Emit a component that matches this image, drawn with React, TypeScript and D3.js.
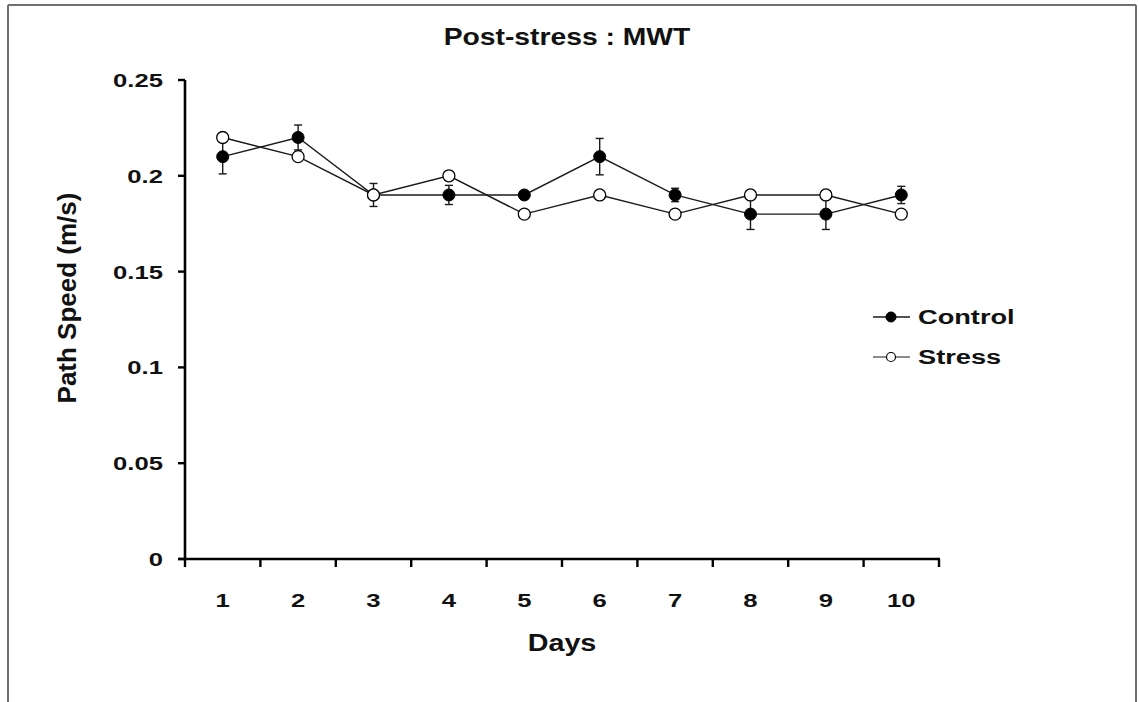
import React from "react";
import * as d3 from "d3";

// Mean path speed (m/s) per test day, with SEM
const days = ["1", "2", "3", "4", "5", "6", "7", "8", "9", "10"];
const controlMean = [0.21, 0.22, 0.19, 0.19, 0.19, 0.21, 0.19, 0.18, 0.18, 0.19];
const controlErr = [0.009, 0.0065, 0.006, 0.005, 0.002, 0.0095, 0.0035, 0.008, 0.008, 0.0045];
const stressMean = [0.22, 0.21, 0.19, 0.2, 0.18, 0.19, 0.18, 0.19, 0.19, 0.18];
const stressErr = [0.002, 0.002, 0.002, 0.002, 0.002, 0.002, 0.002, 0.002, 0.002, 0.002];
const yTicks = [0, 0.05, 0.1, 0.15, 0.2, 0.25];
const yTickLabels = ["0", "0.05", "0.1", "0.15", "0.2", "0.25"];

const W = 1139;
const H = 702;
const FONT = "'Liberation Sans', Arial, Helvetica, sans-serif";

type STProps = {
  x: number;
  y: number;
  sx?: number;
  size: number;
  anchor?: "start" | "middle" | "end";
  rotate?: number;
  children: React.ReactNode;
};

// Bold text with a horizontal stretch factor
function SText({ x, y, sx = 1, size, anchor = "start", rotate = 0, children }: STProps) {
  return (
    <text
      transform={`translate(${x},${y}) rotate(${rotate}) scale(${sx},1)`}
      fontFamily={FONT}
      fontWeight="bold"
      fontSize={size}
      textAnchor={anchor}
      fill="#111"
    >
      {children}
    </text>
  );
}

export default function App() {
  const x = d3.scaleBand<string>().domain(days).range([185, 939]).padding(0);
  const y = d3.scaleLinear().domain([0, 0.25]).range([559, 80]);
  const cx = (d: string) => (x(d) as number) + x.bandwidth() / 2;

  const line = d3
    .line<number>()
    .x((_, i) => cx(days[i]))
    .y((v) => y(v));

  const boundaries = [...days.map((d) => x(d) as number), 939];
  const stroke = "#1a1a1a";
  const cap = 4;

  const errorBars = (means: number[], errs: number[], key: string) =>
    means.map((m, i) => {
      const px = cx(days[i]);
      const yt = y(m + errs[i]);
      const yb = y(m - errs[i]);
      return (
        <g key={`${key}-${i}`} stroke={stroke} strokeWidth={1.4}>
          <line x1={px} x2={px} y1={yt} y2={yb} />
          <line x1={px - cap} x2={px + cap} y1={yt} y2={yt} />
          <line x1={px - cap} x2={px + cap} y1={yb} y2={yb} />
        </g>
      );
    });

  return (
    <svg
      width={W}
      height={H}
      style={{ position: "absolute", left: 0, top: 0, background: "#fff" }}
    >
      {/* frame */}
      <g stroke="#707070" strokeWidth={2} fill="none">
        <line x1={8} x2={1136} y1={5} y2={5} />
        <line x1={8} x2={8} y1={5} y2={H} />
        <line x1={1136} x2={1136} y1={5} y2={H} />
      </g>

      {/* title */}
      <SText x={567} y={45} size={23} sx={1.23} anchor="middle">
        Post-stress : MWT
      </SText>

      {/* y axis */}
      <line x1={185} x2={185} y1={y(0.25)} y2={y(0)} stroke="#000" strokeWidth={2.6} />
      {yTicks.map((t, i) => (
        <g key={`yt-${i}`}>
          <line x1={178} x2={185} y1={y(t)} y2={y(t)} stroke="#000" strokeWidth={2.4} />
          <SText x={163} y={y(t) + 7} size={19} sx={1.35} anchor="end">
            {yTickLabels[i]}
          </SText>
        </g>
      ))}

      {/* x axis */}
      <line x1={178} x2={940} y1={y(0)} y2={y(0)} stroke="#000" strokeWidth={2.6} />
      {boundaries.map((b, i) => (
        <line key={`xt-${i}`} x1={b} x2={b} y1={y(0)} y2={y(0) + 8} stroke="#000" strokeWidth={2.4} />
      ))}
      {days.map((d) => (
        <SText key={`xl-${d}`} x={cx(d)} y={607} size={19} sx={1.35} anchor="middle">
          {d}
        </SText>
      ))}

      {/* axis titles */}
      <SText x={562} y={651} size={23} sx={1.25} anchor="middle">
        Days
      </SText>
      <SText x={76} y={298} size={25} sx={1.04} anchor="middle" rotate={-90}>
        Path Speed (m/s)
      </SText>

      {/* error bars */}
      {errorBars(stressMean, stressErr, "se")}
      {errorBars(controlMean, controlErr, "ce")}

      {/* series lines */}
      <path d={line(controlMean) || ""} fill="none" stroke={stroke} strokeWidth={1.4} />
      <path d={line(stressMean) || ""} fill="none" stroke={stroke} strokeWidth={1.4} />

      {/* markers */}
      {controlMean.map((m, i) => (
        <circle key={`cm-${i}`} cx={cx(days[i])} cy={y(m)} r={6} fill="#000" stroke="#000" strokeWidth={1} />
      ))}
      {stressMean.map((m, i) => (
        <circle key={`sm-${i}`} cx={cx(days[i])} cy={y(m)} r={6} fill="#fff" stroke="#000" strokeWidth={1.3} />
      ))}

      {/* legend */}
      <g>
        <line x1={873} x2={910} y1={317} y2={317} stroke={stroke} strokeWidth={1.4} />
        <circle cx={891} cy={317} r={5} fill="#000" stroke="#000" />
        <SText x={918} y={324} size={20} sx={1.36}>
          Control
        </SText>
        <line x1={873} x2={910} y1={357} y2={357} stroke={stroke} strokeWidth={1.2} />
        <circle cx={891} cy={357} r={4.5} fill="#fff" stroke="#000" strokeWidth={1.2} />
        <SText x={918} y={364} size={20} sx={1.36}>
          Stress
        </SText>
      </g>
    </svg>
  );
}
